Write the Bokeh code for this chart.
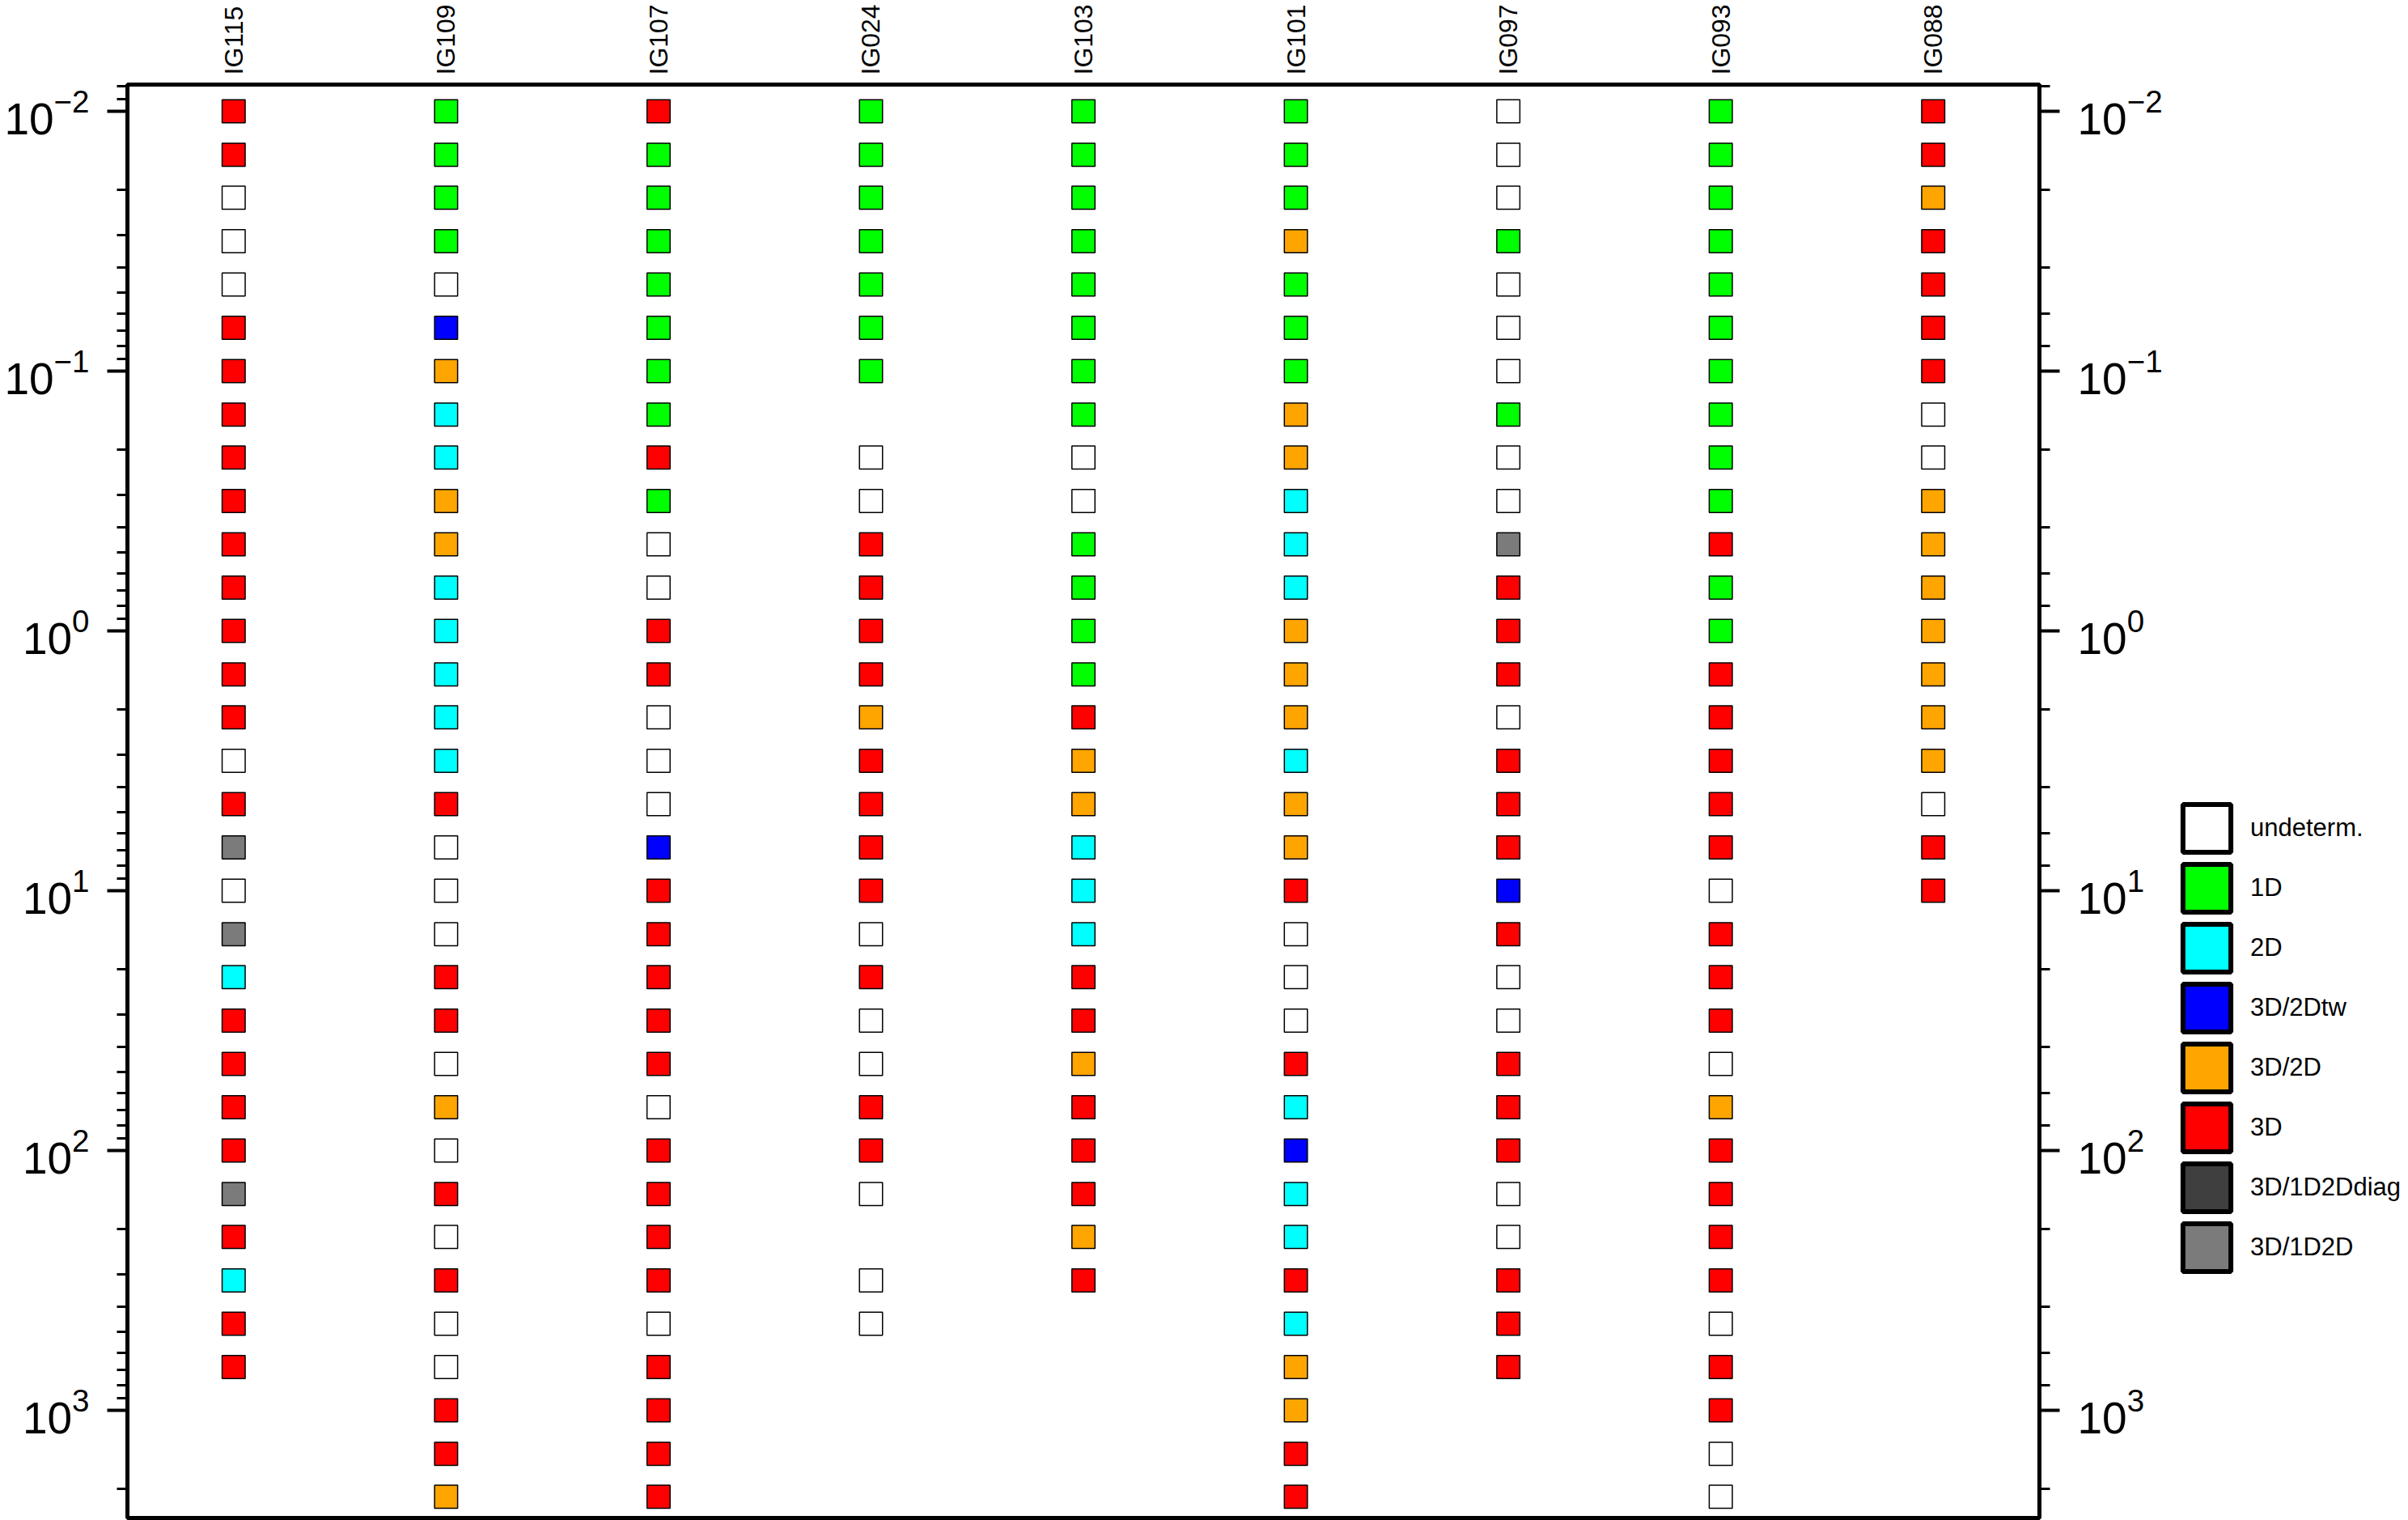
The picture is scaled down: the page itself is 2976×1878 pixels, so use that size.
from bokeh.plotting import figure
from bokeh.layouts import row
from bokeh.models import (Range1d, LogAxis, LogTicker, LogTickFormatter, FixedTicker,
                          Legend, LegendItem, ColumnDataSource)
from bokeh.embed import file_html
from bokeh.resources import INLINE

# ---------------- data ----------------
sites = ["IG115", "IG109", "IG107", "IG024", "IG103", "IG101", "IG097", "IG093", "IG088"]

periods = [0.01, 0.0147, 0.0215, 0.0316, 0.0464, 0.0681,
           0.1, 0.147, 0.215, 0.316, 0.464, 0.681,
           1.0, 1.47, 2.15, 3.16, 4.64, 6.81,
           10.0, 14.7, 21.5, 31.6, 46.4, 68.1,
           100.0, 147.0, 215.0, 316.0, 464.0, 681.0,
           1000.0, 1470.0, 2150.0]

class_names = ["undeterm.", "1D", "2D", "3D/2Dtw", "3D/2D", "3D", "3D/1D2Ddiag", "3D/1D2D"]
class_codes = ["u", "1", "2", "b", "o", "r", "d", "g"]
class_colors = ["#FFFFFF", "#00FF00", "#00FFFF", "#0000FF", "#FFA500", "#FF0000", "#3F3F3F", "#7B7B7B"]

# one code per period (top to bottom, 6 per decade), '-' = no estimate
ig115 = list("rruuur rrrrrr rrrurg ug2rrr rgr2rr".replace(" ", ""))
ig109 = list("1111ub o22oo2 2222ru uurruo ururuu rro".replace(" ", ""))
ig107 = list("r11111 11r1uu rruuub rrrrru rrrrur rrr".replace(" ", ""))
ig024 = list("111111 1-uurr rrorrr ruruur ru-uu".replace(" ", ""))
ig103 = list("111111 11uu11 11roo2 22rror rror".replace(" ", ""))
ig101 = list("111o11 1oo222 ooo2oo ruuur2 b22r2o orr".replace(" ", ""))
ig097 = list("uuu1uu u1uugr rrurrr bruurr ruurrr".replace(" ", ""))
ig093 = list("111111 1111r1 1rrrrr urrruo rrrrur ruu".replace(" ", ""))
ig088 = list("rrorrr ruuooo oooour r".replace(" ", ""))

site_classes = [ig115, ig109, ig107, ig024, ig103, ig101, ig097, ig093, ig088]

# ---------------- build source ----------------
color_of = dict(zip(class_codes, class_colors))
xs, ys, cols = [], [], []
for i, codes in enumerate(site_classes):
    for per, c in zip(periods, codes):
        if c == "-":
            continue
        xs.append(i + 1)
        ys.append(per)
        cols.append(color_of[c])
src = ColumnDataSource(dict(x=xs, y=ys, color=cols))

FONT = "Liberation Sans"
H = 1878
MAIN_W = 2690
LEG_W = 2976 - MAIN_W

p = figure(width=MAIN_W, height=H, output_backend="svg", toolbar_location=None,
           x_range=Range1d(0.5, 9.5), y_range=Range1d(10 ** 3.414, 10 ** -2.1028),
           y_axis_type="log", x_axis_location="above",
           min_border_left=157, min_border_right=MAIN_W - 2520,
           min_border_top=104, min_border_bottom=3)

p.background_fill_color = "white"
p.border_fill_color = "white"
p.grid.visible = False
p.outline_line_color = "black"
p.outline_line_width = 5

p.scatter(x="x", y="y", source=src, marker="square", size=28.5,
          fill_color="color", line_color="black", line_width=1.5)

# ---------- top axis: site names ----------
xa = p.xaxis[0]
xa.ticker = FixedTicker(ticks=list(range(1, len(sites) + 1)))
xa.major_label_overrides = {i + 1: s for i, s in enumerate(sites)}
xa.major_label_orientation = "vertical"
xa.major_label_text_font = FONT
xa.major_label_text_font_size = "32px"
xa.major_label_text_color = "black"
xa.major_label_standoff = 12
xa.axis_line_color = None
xa.major_tick_line_color = None
xa.minor_tick_line_color = None
xa.major_tick_out = 0
xa.major_tick_in = 0


def style_log_axis(ax):
    ax.axis_line_color = "black"
    ax.axis_line_width = 5
    ax.major_tick_line_color = "black"
    ax.major_tick_line_width = 4
    ax.major_tick_out = 25
    ax.major_tick_in = 0
    ax.minor_tick_line_color = "black"
    ax.minor_tick_line_width = 3
    ax.minor_tick_out = 13
    ax.minor_tick_in = 0
    ax.major_label_text_font = FONT
    ax.major_label_text_font_size = "55px"
    ax.major_label_text_color = "black"
    ax.major_label_standoff = 22


ya = p.yaxis[0]
style_log_axis(ya)

ra = LogAxis(ticker=LogTicker(), formatter=LogTickFormatter())
style_log_axis(ra)
p.add_layout(ra, "right")

# ---------- legend (own panel to the right) ----------
lf = figure(width=LEG_W, height=H, output_backend="svg", toolbar_location=None,
            x_range=Range1d(0, 1), y_range=Range1d(0, 1),
            min_border_left=0, min_border_right=0, min_border_top=0, min_border_bottom=0)
lf.axis.visible = False
lf.grid.visible = False
lf.outline_line_color = None
lf.background_fill_color = "white"
lf.border_fill_color = "white"

items = []
for name, col in zip(class_names, class_colors):
    # swatch renderer: one off-screen point so the legend draws its glyph
    r = lf.rect(x=[-10], y=[-10], width=0.01, height=0.01, fill_color=col,
                line_color="black", line_width=6)
    items.append(LegendItem(label=name, renderers=[r]))

legend = Legend(items=items, location=(0, H - 989 - 8 * 74), orientation="vertical",
                glyph_width=74, glyph_height=74, spacing=0, padding=0, margin=0,
                label_standoff=17, label_text_font=FONT, label_text_font_size="31px",
                label_text_color="black", border_line_color=None,
                background_fill_alpha=0)
lf.add_layout(legend, "center")

layout = row(p, lf, spacing=0)
open("out.html", "w").write(file_html(layout, INLINE))
